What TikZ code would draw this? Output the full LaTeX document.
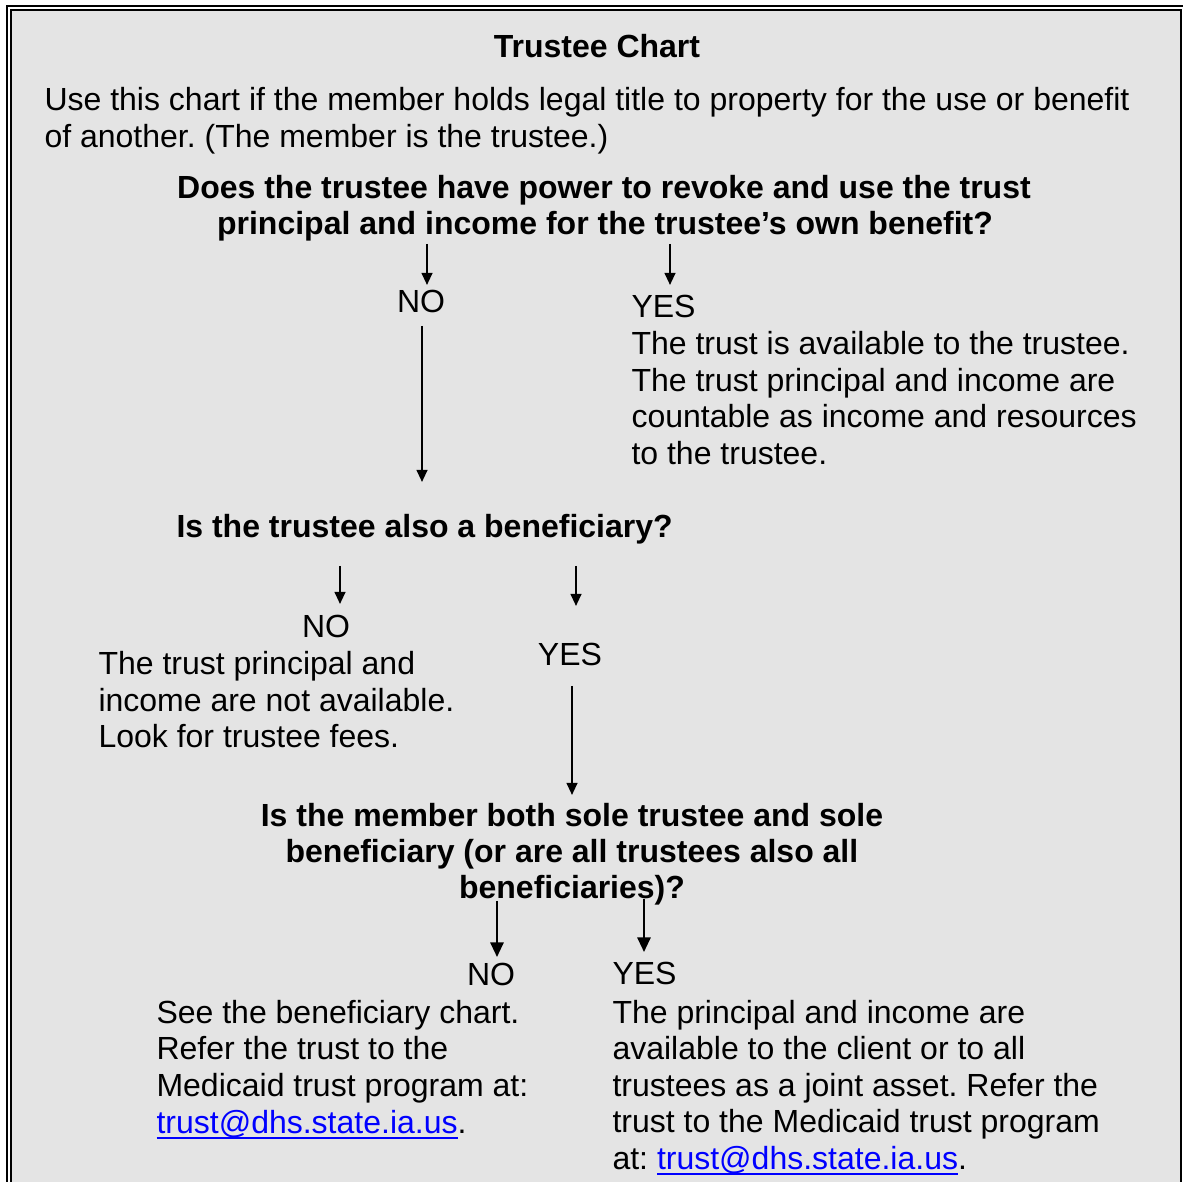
\documentclass[tikz,border=0pt]{standalone}
\usepackage{fontspec}
\setmainfont{Liberation Sans}
\usetikzlibrary{arrows.meta}
\definecolor{bg}{HTML}{E4E4E4}
\definecolor{linkblue}{HTML}{0000FF}
\newcommand{\lnk}[1]{\begingroup\color{linkblue}\setbox0\hbox{#1}\rlap{\rule[-1.7pt]{\wd0}{0.7pt}}\box0\endgroup}
\frenchspacing
\begin{document}
\begin{tikzpicture}[x=0.375pt,y=-0.375pt,
  txt/.style={inner sep=0pt, font=\fontsize{12pt}{13.8pt}\selectfont, anchor=base west},
  ctxt/.style={txt, anchor=base},
  btxt/.style={inner sep=0pt, font=\fontsize{12pt}{13.8pt}\selectfont\bfseries, anchor=base},
  bltxt/.style={btxt, anchor=base west},
  arr/.style={line width=0.75pt, -{Triangle[length=4.5pt,width=4pt]}},
  barr/.style={line width=0.75pt, -{Triangle[length=5.5pt,width=5pt]}},
  frame/.style={line width=0.75pt}]
\useasboundingbox (0,0) rectangle (1183,1182);
\clip (0,0) rectangle (1183,1182);
\fill[white] (0,0) rectangle (1183,1182);
\draw[frame] (7,6) rectangle (1220,1220);
\draw[frame, fill=bg] (11,10) rectangle (1181,1220);

\begin{scope}[yshift=-0.375pt]
% title and intro
\node[btxt] (title) at (597,57) {Trustee Chart};
\node[txt] (intro1) at (44,110) {Use this chart if the member holds legal title to property for the use or benefit};
\node[txt] (intro2) at (44,147) {of another. (The member is the trustee.)};

% question 1
\node[btxt] (q1a) at (604,198) {Does the trustee have power to revoke and use the trust};
\node[btxt] (q1b) at (605,234) {principal and income for the trustee’s own benefit?};

\coordinate (a1s) at (427,243); \coordinate (a1e) at (427,284);
\coordinate (a2s) at (670,243); \coordinate (a2e) at (670,284);
\draw[arr] (a1s) -- (a1e);
\draw[arr] (a2s) -- (a2e);

\node[ctxt] (no1) at (421,312) {NO};
\node[txt] (yes1) at (631,317) {YES};
\node[txt] (y1l1) at (631,354) {The trust is available to the trustee.};
\node[txt] (y1l2) at (631,391) {The trust principal and income are};
\node[txt] (y1l3) at (631,427) {countable as income and resources};
\node[txt] (y1l4) at (631,464) {to the trustee.};

\coordinate (a3s) at (422,325); \coordinate (a3e) at (422,481);
\draw[arr] (a3s) -- (a3e);

% question 2
\node[bltxt] (q2) at (176,537) {Is the trustee also a beneficiary?};
\coordinate (a4s) at (340,565); \coordinate (a4e) at (340,603);
\coordinate (a5s) at (576,565); \coordinate (a5e) at (576,605);
\draw[arr] (a4s) -- (a4e);
\draw[arr] (a5s) -- (a5e);

\node[ctxt] (no2) at (326,637) {NO};
\node[txt] (n2l1) at (98,674) {The trust principal and};
\node[txt] (n2l2) at (98,711) {income are not available.};
\node[txt] (n2l3) at (98,747) {Look for trustee fees.};
\node[ctxt] (yes2) at (570,665) {YES};

\coordinate (a6s) at (572,685); \coordinate (a6e) at (572,794);
\draw[arr] (a6s) -- (a6e);

% question 3
\node[btxt] (q3a) at (572,826) {Is the member both sole trustee and sole};
\node[btxt] (q3b) at (572,862) {beneficiary (or are all trustees also all};
\node[btxt] (q3c) at (572,898) {beneficiaries)?};

\coordinate (a7s) at (497,900); \coordinate (a7e) at (497,956);
\coordinate (a8s) at (644,898); \coordinate (a8e) at (644,951);
\draw[barr] (a7s) -- (a7e);
\draw[barr] (a8s) -- (a8e);

\node[ctxt] (no3) at (491,985) {NO};
\node[txt] (yes3) at (612,984) {YES};

\node[txt] (n3l1) at (156,1023) {See the beneficiary chart.};
\node[txt] (n3l2) at (156,1059) {Refer the trust to the};
\node[txt] (n3l3) at (156,1096) {Medicaid trust program at:};
\node[txt] (n3l4) at (156,1133) {\lnk{trust@dhs.state.ia.us}.};

\node[txt] (y3l1) at (612,1023) {The principal and income are};
\node[txt] (y3l2) at (612,1059) {available to the client or to all};
\node[txt] (y3l3) at (612,1096) {trustees as a joint asset. Refer the};
\node[txt] (y3l4) at (612,1132) {trust to the Medicaid trust program};
\node[txt] (y3l5) at (612,1169) {at: \lnk{trust@dhs.state.ia.us}.};
\end{scope}
\end{tikzpicture}
\end{document}
